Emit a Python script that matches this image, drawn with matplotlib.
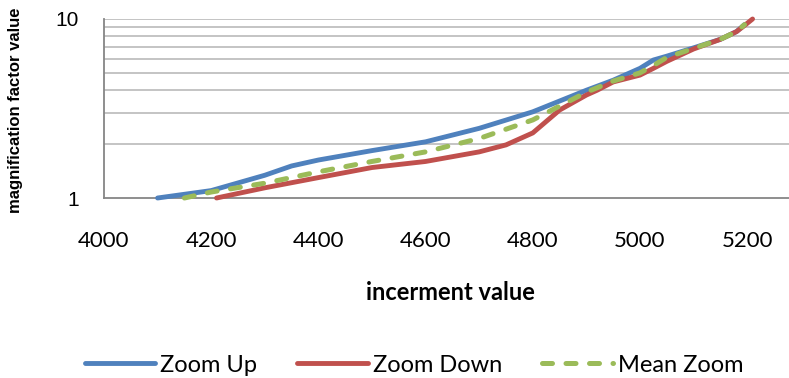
import matplotlib
matplotlib.use("Agg")
import matplotlib.pyplot as plt
from matplotlib.ticker import FixedLocator, NullFormatter

# values
up_x = [4100, 4200, 4300, 4350, 4400, 4500, 4600, 4700, 4800, 4900, 4950, 5000, 5025, 5050, 5100, 5150, 5180, 5195]
up_y = [1.0, 1.10, 1.34, 1.51, 1.63, 1.84, 2.06, 2.45, 3.03, 4.0, 4.55, 5.3, 5.9, 6.2, 6.9, 7.7, 8.5, 9.3]

down_x = [4210, 4300, 4400, 4500, 4600, 4700, 4750, 4800, 4850, 4900, 4920, 4950, 5000, 5025, 5050, 5100, 5150, 5180, 5195, 5210]
down_y = [1.0, 1.14, 1.30, 1.48, 1.60, 1.81, 1.98, 2.31, 3.1, 3.76, 4.0, 4.45, 4.86, 5.3, 5.8, 6.8, 7.7, 8.5, 9.2, 10.0]

mean_x = [4150, 4200, 4300, 4400, 4500, 4600, 4700, 4800, 4900, 4950, 5000, 5025, 5050, 5100, 5150, 5180, 5195]
mean_y = [1.0, 1.08, 1.21, 1.40, 1.60, 1.81, 2.15, 2.73, 3.9, 4.5, 5.0, 5.5, 6.1, 6.85, 7.7, 8.5, 9.3]

x_ticks = [4000, 4200, 4400, 4600, 4800, 5000, 5200]
labels = ["Zoom Up", "Zoom Down", "Mean Zoom"]

blue = "#4F81BD"
red = "#C0504D"
green = "#9BBB59"
grid_col = "#BFBFBF"
axis_col = "#868686"

fig = plt.figure(figsize=(7.89, 3.78), dpi=100)
ax = fig.add_axes([104 / 789, 1 - 198 / 378, 1 - 104 / 789, 179 / 378])

ax.plot(up_x, up_y, color=blue, lw=3.5, solid_capstyle="round",
        clip_on=False, label=labels[0])
ax.plot(down_x, down_y, color=red, lw=3.5, solid_capstyle="round",
        clip_on=False, label=labels[1])
ax.plot(mean_x, mean_y, color=green, lw=3.6, ls=(0, (2.0, 2.7)),
        dash_capstyle="round", clip_on=False, label=labels[2])

ax.set_yscale("log")
ax.set_ylim(1, 10)
ax.set_xlim(4000, 5278)
ax.xaxis.set_major_locator(FixedLocator(x_ticks))
ax.yaxis.set_major_locator(FixedLocator([1, 10]))
ax.yaxis.set_minor_locator(FixedLocator([2, 3, 4, 5, 6, 7, 8, 9]))
ax.yaxis.set_minor_formatter(NullFormatter())
ax.set_yticklabels(["1", "10"])

for v in [2, 3, 4, 5, 6, 7, 8, 9, 10]:
    ax.axhline(v, color=grid_col, lw=1.3, zorder=0)

for s in ["top", "right"]:
    ax.spines[s].set_visible(False)
for s in ["left", "bottom"]:
    ax.spines[s].set_color(axis_col)
    ax.spines[s].set_linewidth(1.3)
    ax.spines[s].set_zorder(0.5)

ax.tick_params(axis="both", which="both", length=0)
ax.tick_params(axis="x", pad=24, labelsize=16)
ax.tick_params(axis="y", pad=18, labelsize=15)
for t in ax.get_xticklabels():
    t.set_fontfamily("Lato")
for t in ax.get_yticklabels():
    t.set_fontfamily("Liberation Sans")

fig.text(450 / 789, 1 - 292 / 378, "incerment value", ha="center", va="center",
         fontsize=17, fontweight="bold", family="Lato")
fig.text(16 / 789, 1 - 110 / 378, "magnification factor value", ha="center", va="center",
         rotation=90, fontsize=12, fontweight="bold", family="Liberation Sans")

fig.legend(loc="center", bbox_to_anchor=(414 / 789, 1 - 365 / 378), ncol=3,
           frameon=False, handlelength=3.0, handletextpad=0.2, columnspacing=1.7,
           prop={"family": "Lato", "size": 17})

fig.savefig("out.png", dpi=100)
